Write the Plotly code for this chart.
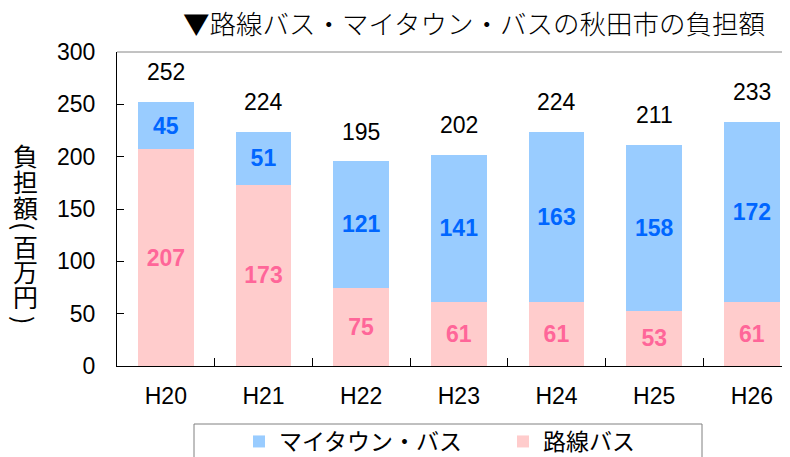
import plotly.graph_objects as go

years = ["H20", "H21", "H22", "H23", "H24", "H25", "H26"]
rosen = [207, 173, 75, 61, 61, 53, 61]          # 路線バス
mytown = [45, 51, 121, 141, 163, 158, 172]      # マイタウン・バス
totals = [252, 224, 195, 202, 224, 211, 233]
y_ticks = [0, 50, 100, 150, 200, 250, 300]

# page offset of the figure (default body margin)
OX, OY = 8, 8
W, H = 790 - OX, 457 - OY
PLOT_L, PLOT_T, PLOT_B = 117, 52, 366          # in page pixels
L, T = PLOT_L - OX, PLOT_T - OY
B = H - (PLOT_B - OY)
R = 0
PW, PH = W - L - R, H - T - B


def px_x(px):
    return (px - PLOT_L) / PW


def px_y(py):
    return (PLOT_B - py) / PH


NUM_FONT = "Liberation Sans, Arial, sans-serif"
JP_FONT = "Noto Sans CJK JP, sans-serif"

fig = go.Figure()
fig.add_trace(go.Bar(
    x=years, y=rosen, name="路線バス",
    marker=dict(color="#FFCCCC", line=dict(width=0)),
    text=[str(v) for v in rosen], textposition="inside",
    insidetextanchor="middle", constraintext="none",
    textfont=dict(family=NUM_FONT, size=23, color="#FF6699", weight="bold"),
))
fig.add_trace(go.Bar(
    x=years, y=mytown, name="マイタウン・バス",
    marker=dict(color="#99CCFF", line=dict(width=0)),
    text=[str(v) for v in mytown], textposition="inside",
    insidetextanchor="middle", constraintext="none",
    textfont=dict(family=NUM_FONT, size=23, color="#0066FF", weight="bold"),
))

annotations = []
for yr, t in zip(years, totals):
    annotations.append(dict(
        x=yr, y=t, xref="x", yref="y", text=str(t), showarrow=False,
        yanchor="middle", yshift=30,
        font=dict(family=NUM_FONT, size=23, color="#000000"),
    ))

# vertical y-axis title
ytitle_chars = ["負", "担", "額", "(", "百", "万", "円", ")"]
ytitle_angles = [0, 0, 0, 90, 0, 0, 0, 90]
ytitle_centers = [155, 181, 207, 226, 246, 271, 296, 320]
for ch, ang, yc in zip(ytitle_chars, ytitle_angles, ytitle_centers):
    annotations.append(dict(
        x=px_x(25), y=px_y(yc), xref="paper", yref="paper",
        text=ch, showarrow=False, xanchor="center", yanchor="middle",
        textangle=ang,
        font=dict(family=JP_FONT, size=25, color="#000000"),
    ))

shapes = [
    # gray top frame line
    dict(type="line", xref="paper", yref="paper", x0=0, x1=1, y0=1, y1=1,
         line=dict(color="#868686", width=1)),
    # legend border box (cut off at the bottom)
    dict(type="rect", xref="paper", yref="paper",
         x0=px_x(194), x1=px_x(702), y0=px_y(424), y1=px_y(480),
         line=dict(color="#808080", width=1), fillcolor="rgba(0,0,0,0)"),
]

fig.update_layout(
    width=W, height=H,
    margin=dict(l=L, r=R, t=T, b=B, autoexpand=False),
    paper_bgcolor="white", plot_bgcolor="white",
    barmode="stack", bargap=0.43,
    title=dict(text="▼路線バス・マイタウン・バスの秋田市の負担額",
               x=(474 - OX) / W, xanchor="center", y=1 - (25 - OY) / H,
               yanchor="middle",
               font=dict(family=JP_FONT, size=26.5, color="#000000",
                         weight=300)),
    xaxis=dict(
        range=[-0.5, -0.5 + PW / 97.67],
        showline=True, linecolor="#000000", linewidth=1,
        ticks="inside", tickson="boundaries", ticklen=8, tickcolor="#000000",
        tickfont=dict(family=NUM_FONT, size=23, color="#000000"),
        ticklabelstandoff=9, showgrid=False, zeroline=False,
    ),
    yaxis=dict(
        range=[0, 300], tickvals=y_ticks,
        showline=True, linecolor="#000000", linewidth=1,
        ticks="inside", ticklen=7, tickcolor="#000000",
        tickfont=dict(family=NUM_FONT, size=23, color="#000000"),
        ticklabelstandoff=16, showgrid=False, zeroline=False,
    ),
    showlegend=True,
    legend=dict(
        orientation="h", traceorder="reversed",
        x=px_x(239), xanchor="left",
        y=px_y(420), yanchor="top",
        entrywidth=219,
        font=dict(family=JP_FONT, size=23, color="#000000"),
        bgcolor="rgba(0,0,0,0)", borderwidth=0,
    ),
    annotations=annotations, shapes=shapes,
)

fig.write_html("out.html")
